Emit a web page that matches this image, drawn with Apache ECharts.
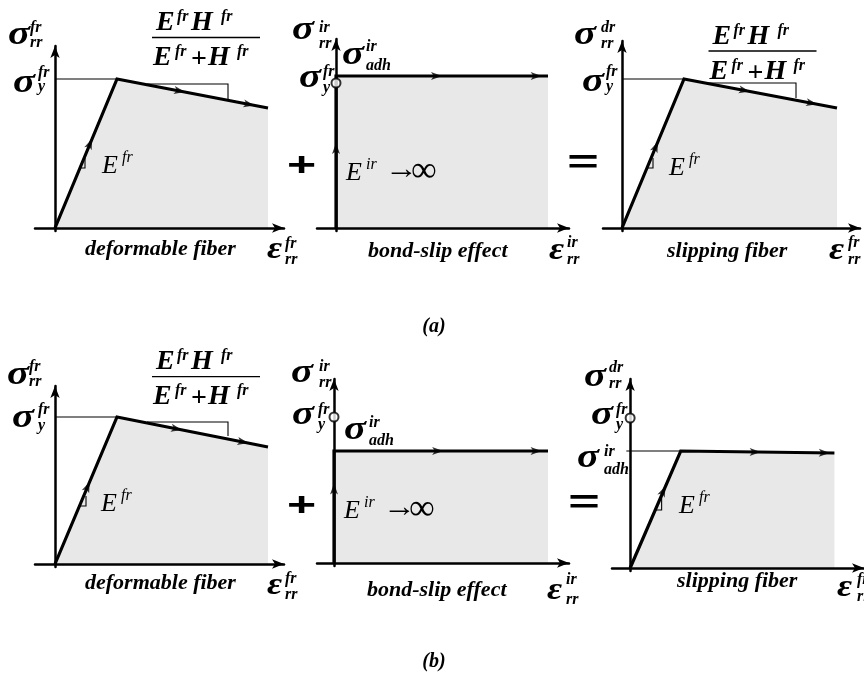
<!DOCTYPE html>
<html>
<head>
<meta charset="utf-8">
<title>Fibre stress–strain decomposition</title>
<script src="https://cdn.jsdelivr.net/npm/echarts@6.0.0/dist/echarts.min.js"></script>
<style>
  html, body { margin: 0; padding: 0; background: #fff; }
  #chart { width: 864px; height: 679px; }
</style>
</head>
<body>
<div id="chart"></div>
<script>
// ---- (strain, stress) vertices of each constitutive path, one unit per pixel ----
// Row (a): adhesion strength equal to the fibre yield stress
const deformableA = [[0, 0], [62, 149], [213, 120]];
const bondSlipA   = [[0, 0], [0, 152], [212, 152]];
const slippingA   = [[0, 0], [62, 149], [215, 120]];
// Row (b): adhesion strength below the fibre yield stress
const deformableB = [[0, 0], [62, 147], [213, 117]];
const bondSlipB   = [[0, 0], [0, 112], [214, 112]];
const slippingB   = [[0, 0], [53, 117], [214, 115]];

// open circles: fibre yield stress on the stress axis
const yieldMarkA     = [[0, 145]];
const yieldMarkB     = [[0, 146]];
const yieldMarkSlipB = [[0, 150]];

// thin reference lines: yield level and slope triangles
const guidesDeformableA = [[[0, 149], [62, 149]], [[92, 144], [173, 144], [173, 128]], [[25, 60], [30, 60], [30, 70]]];
const guidesSlippingA   = [[[0, 149], [62, 149]], [[86, 145], [174, 145], [174, 130]], [[25, 60], [31, 60], [31, 70]]];
const guidesDeformableB = [[[0, 147], [62, 147]], [[92, 142], [173, 142], [173, 128]], [[25, 58], [31, 58], [31, 68]]];
const guidesSlippingB   = [[[-4, 117], [53, 117]], [[26, 58], [33, 58], [33, 72]]];

// flow-direction arrowheads: [segment index, position along segment 0..1]
const arrowsDeformableA = [[0, 0.60], [1, 0.45], [1, 0.91]];
const arrowsBondSlipA   = [[0, 0.56], [1, 0.50], [1, 0.97]];
const arrowsSlippingA   = [[0, 0.58], [1, 0.43], [1, 0.87]];
const arrowsDeformableB = [[0, 0.56], [1, 0.43], [1, 0.87]];
const arrowsBondSlipB   = [[0, 0.71], [1, 0.51], [1, 0.97]];
const arrowsSlippingB   = [[0, 0.70], [1, 0.52], [1, 0.97]];

// axis extents [min, max] for strain and stress in each panel
const strainRanges = [[-20, 229], [-19, 233], [-19, 238], [-20, 229], [-17, 235], [-19, 245]];
const stressRanges = [[-3, 182], [-3, 189], [-3, 187], [-3, 178], [-3, 184], [-3, 189]];

// ---- layout: pixel position of each panel's origin ----
const origins = [[55, 228], [336, 228], [622, 228], [55, 564], [334, 563], [631, 568]];

const panels = [
  { path: deformableA, guides: guidesDeformableA, arrows: arrowsDeformableA, marks: [] },
  { path: bondSlipA,   guides: [],                arrows: arrowsBondSlipA,   marks: yieldMarkA },
  { path: slippingA,   guides: guidesSlippingA,   arrows: arrowsSlippingA,   marks: [] },
  { path: deformableB, guides: guidesDeformableB, arrows: arrowsDeformableB, marks: [] },
  { path: bondSlipB,   guides: [],                arrows: arrowsBondSlipB,   marks: yieldMarkB },
  { path: slippingB,   guides: guidesSlippingB,   arrows: arrowsSlippingB,   marks: yieldMarkSlipB }
];

const INK = '#000';
const FILL = '#e8e8e8';

const grids = [], xAxes = [], yAxes = [], series = [];

function axisStyle(i) {
  return {
    gridIndex: i, type: 'value', z: 3,
    axisLine: { show: true, onZero: true, symbol: ['none', 'arrow'], symbolSize: [7, 12],
                lineStyle: { color: INK, width: 2.5 } },
    axisTick: { show: false }, axisLabel: { show: false }, splitLine: { show: false }
  };
}

panels.forEach((p, i) => {
  const [ox, oy] = origins[i];
  const [x0, x1] = strainRanges[i];
  const [y0, y1] = stressRanges[i];
  // one data unit = one pixel on both axes
  grids.push({ left: ox + x0, top: oy - y1, width: x1 - x0, height: y1 - y0 });
  xAxes.push(Object.assign(axisStyle(i), { min: x0, max: x1 }));
  yAxes.push(Object.assign(axisStyle(i), { min: y0, max: y1 }));

  series.push({
    type: 'line', xAxisIndex: i, yAxisIndex: i, data: p.path,
    symbol: 'none', silent: true, z: 2,
    lineStyle: { color: INK, width: 3.2, join: 'miter' },
    areaStyle: { color: FILL, opacity: 1 }
  });

  p.guides.forEach(g => series.push({
    type: 'line', xAxisIndex: i, yAxisIndex: i, data: g,
    symbol: 'none', silent: true, z: 4,
    lineStyle: { color: INK, width: 1.1, join: 'miter' }
  }));

  // arrowheads along the path, rotated to the segment direction
  const heads = p.arrows.map(([s, t]) => {
    const a = p.path[s], b = p.path[s + 1];
    const dx = b[0] - a[0], dy = b[1] - a[1];
    const ang = Math.atan2(dy, dx) * 180 / Math.PI;
    return { value: [a[0] + dx * t, a[1] + dy * t], symbolRotate: ang - 90 };
  });
  series.push({
    type: 'scatter', xAxisIndex: i, yAxisIndex: i, data: heads,
    symbol: 'arrow', symbolSize: [6, 11], silent: true, z: 5,
    itemStyle: { color: INK }
  });

  if (p.marks.length) {
    series.push({
      type: 'scatter', xAxisIndex: i, yAxisIndex: i, data: p.marks,
      symbol: 'circle', symbolSize: 9, silent: true, z: 6,
      itemStyle: { color: '#fff', borderColor: INK, borderWidth: 2 }
    });
  }
});

// ---- text annotations ----
const SERIF = "'Liberation Serif','Times New Roman',serif";
const SANS = "'Liberation Sans',Arial,sans-serif";
const MID = 0.3375; // canvas 'middle' sits this far (in em) above the alphabetic baseline
const FACE = { bi: 'italic bold ', i: 'italic ', b: 'bold ', r: '' };

function piece(x, base, text, size, kind, extra) {
  extra = extra || {};
  const align = extra.align || 'left';
  return {
    type: 'text', silent: true, z: 100,
    x: x, y: base - MID * size,
    scaleX: extra.sx || 1, scaleY: extra.sy || 1,
    style: {
      text: text,
      font: FACE[kind || 'bi'] + size + 'px ' + (extra.family || SERIF),
      fill: INK,
      align: align, textAlign: align,
      verticalAlign: 'middle', textVerticalAlign: 'middle'
    }
  };
}

// glyph with stacked superscript and subscript
function scripted(x, base, glyph, sup, sub, sx, supBase, subBase) {
  const big = glyph === 'σ' ? { size: 34, sx: 1.2 } : { size: 32, sx: 1.15 };
  return [
    piece(x - 1, base + 2, glyph, big.size, 'bi', { sx: big.sx }),
    piece(sx + 1, supBase, sup, 16, 'bi'),
    piece(sx + 1, subBase + 1, sub, 16, 'bi')
  ];
}

// E^fr H^fr / (E^fr + H^fr) centred at cx over a bar at lineY
function hardeningFraction(cx, lineY) {
  return [
    piece(cx - 50, lineY - 5, 'E', 28), piece(cx - 29, lineY - 15, 'fr', 16),
    piece(cx - 15, lineY - 5, 'H', 28), piece(cx + 15, lineY - 15, 'fr', 16),
    { type: 'line', silent: true, z: 100,
      shape: { x1: cx - 54, y1: lineY, x2: cx + 54, y2: lineY },
      style: { stroke: INK, lineWidth: 1.3 } },
    piece(cx - 53, lineY + 30, 'E', 28), piece(cx - 31, lineY + 20, 'fr', 16),
    piece(cx - 7, lineY + 24.5 + MID * 28 - 2, '+', 28, 'b', { align: 'center' }),
    piece(cx + 2, lineY + 30, 'H', 28), piece(cx + 31, lineY + 20, 'fr', 16)
  ];
}

function modulus(x, base, sup) {
  return [piece(x, base, 'E', 26, 'i'), piece(x + 20, base - 12, sup, 16, 'i')];
}

// "→ ∞" following the bond-slip modulus
function tendsToInfinity(x, base) {
  return [piece(x, base - 3, '\u2192', 30, 'r', { sx: 1.1 }), piece(x + 26, base + 1, '\u221E', 36, 'r')];
}

function operator(cx, cy, text, size, sy) {
  return piece(cx, cy + MID * size, text, size, 'b', { align: 'center', family: SANS, sy: sy });
}

const labels = [].concat(
  // (a) deformable fibre
  scripted(9, 45, 'σ', 'fr', 'rr', 29, 33, 47),
  scripted(14, 93, 'σ', 'fr', 'y', 37, 78, 91),
  hardeningFraction(206, 37.5),
  modulus(102, 175, 'fr'),
  [piece(85, 257, 'deformable fiber', 22)],
  scripted(268, 259, 'ε', 'fr', 'rr', 284, 249, 264),
  // (a) bond-slip
  scripted(293, 40, 'σ', 'ir', 'rr', 318, 33, 48),
  scripted(343, 65, 'σ', 'ir', 'adh', 365, 52, 70),
  scripted(300, 88, 'σ', 'fr', 'y', 322, 77, 92),
  modulus(346, 182, 'ir'),
  tendsToInfinity(385, 183),
  [piece(368, 259, 'bond-slip effect', 22)],
  scripted(550, 260, 'ε', 'ir', 'rr', 566, 248, 264),
  [operator(301.5, 167, '+', 50, 0.66)],
  // (a) slipping fibre
  scripted(575, 45, 'σ', 'dr', 'rr', 600, 33, 48),
  scripted(583, 92, 'σ', 'fr', 'y', 605, 77, 91),
  hardeningFraction(762.5, 51),
  modulus(669, 177, 'fr'),
  [operator(583, 164, '=', 54, 0.62)],
  [piece(667, 259, 'slipping fiber', 22)],
  scripted(830, 260, 'ε', 'fr', 'rr', 847, 248, 264),
  [piece(434, 327 + MID * 20, '(a)', 20, 'bi', { align: 'center' })],

  // (b) deformable fibre
  scripted(8, 385, 'σ', 'fr', 'rr', 28, 372, 386),
  scripted(13, 428, 'σ', 'fr', 'y', 37, 415, 430),
  hardeningFraction(206, 376.7),
  modulus(101, 513, 'fr'),
  [piece(85, 591, 'deformable fiber', 22)],
  scripted(268, 595, 'ε', 'fr', 'rr', 284, 584, 599),
  // (b) bond-slip
  scripted(292, 383, 'σ', 'ir', 'rr', 318, 372, 387),
  scripted(293, 425, 'σ', 'fr', 'y', 317, 415, 429),
  scripted(345, 440, 'σ', 'ir', 'adh', 368, 428, 445),
  modulus(344, 520, 'ir'),
  tendsToInfinity(383, 521),
  [piece(367, 598, 'bond-slip effect', 22)],
  scripted(548, 600, 'ε', 'ir', 'rr', 565, 585, 604),
  [operator(301.5, 507, '+', 50, 0.66)],
  // (b) slipping fibre
  scripted(585, 387, 'σ', 'dr', 'rr', 608, 373, 388),
  scripted(592, 425, 'σ', 'fr', 'y', 615, 415, 429),
  scripted(578, 468, 'σ', 'ir', 'adh', 603, 457, 474),
  modulus(679, 515, 'fr'),
  [operator(584, 504, '=', 54, 0.62)],
  [piece(677, 589, 'slipping fiber', 22)],
  scripted(838, 597, 'ε', 'fr', 'rr', 856, 585, 601),
  [piece(434, 662 + MID * 20, '(b)', 20, 'bi', { align: 'center' })]
);

const chart = echarts.init(document.getElementById('chart'), null, { renderer: 'canvas' });
chart.setOption({
  animation: false,
  backgroundColor: '#fff',
  grid: grids,
  xAxis: xAxes,
  yAxis: yAxes,
  series: series,
  graphic: { elements: labels }
});
</script>
</body>
</html>
